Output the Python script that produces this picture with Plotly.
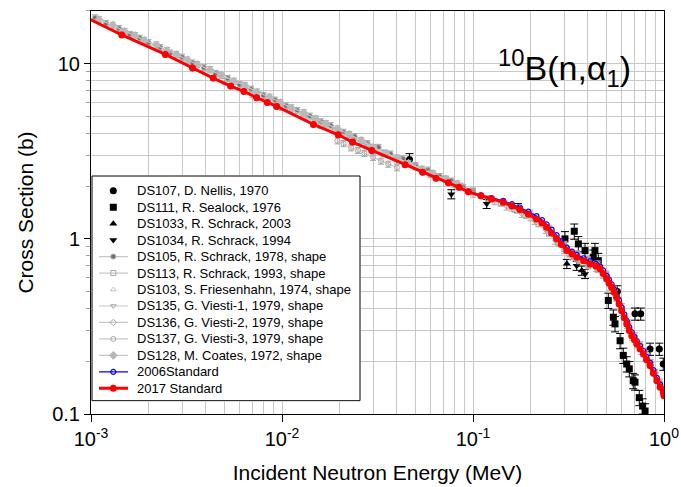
import plotly.graph_objects as go

# ---------------- data ----------------
# Black experimental sets
e107 = [0.0465, 0.57, 0.705, 0.755, 0.845, 0.945, 0.991]
s107 = [2.84, 0.50, 0.373, 0.373, 0.235, 0.235, 0.193]

e111 = [0.303, 0.339, 0.356, 0.386, 0.426, 0.435, 0.453, 0.511, 0.543, 0.554,
        0.589, 0.612, 0.638, 0.658, 0.690, 0.705, 0.742, 0.773, 0.796]
s111 = [1.00, 1.105, 0.936, 0.857, 0.785, 0.857, 0.751, 0.445, 0.357, 0.327,
        0.262, 0.216, 0.193, 0.181, 0.155, 0.152, 0.124, 0.111, 0.104]

e1033 = [0.31, 0.371]
s1033 = [0.72, 0.659]

e1034 = [0.077, 0.118, 0.172, 0.349, 0.386]
s1034 = [1.80, 1.585, 1.50, 0.703, 0.631]

# Grey (shape) experimental sets
e105 = [0.00105, 0.0012, 0.0014, 0.0016, 0.0018, 0.002, 0.0023, 0.0026, 0.003, 0.0034,
        0.0039, 0.0045, 0.0052, 0.006, 0.0069, 0.008, 0.0092, 0.0105, 0.012, 0.014,
        0.016, 0.018, 0.021, 0.024, 0.028, 0.032, 0.037, 0.043, 0.05, 0.058,
        0.067, 0.077, 0.089, 0.1]
s105 = [18.3, 17.0, 15.9, 14.7, 14.0, 13.2, 12.4, 11.5, 10.9, 10.1,
        9.5, 8.8, 8.25, 7.6, 7.15, 6.6, 6.2, 5.75, 5.4, 5.02,
        4.66, 4.43, 4.06, 3.84, 3.50, 3.33, 3.05, 2.86, 2.63, 2.47,
        2.27, 2.14, 1.97, 1.88]

e113 = [0.011, 0.013, 0.016, 0.019, 0.023, 0.028, 0.034, 0.041, 0.05, 0.06,
        0.072, 0.086, 0.1, 0.12, 0.14, 0.165, 0.19, 0.22, 0.25, 0.28,
        0.32, 0.36, 0.4, 0.45, 0.5]
s113 = [5.5, 5.0, 4.45, 4.15, 3.75, 3.40, 3.08, 2.84, 2.58, 2.37,
        2.18, 2.0, 1.86, 1.70, 1.60, 1.48, 1.36, 1.22, 1.08, 0.95,
        0.82, 0.76, 0.72, 0.68, 0.60]

e103 = [0.005, 0.007, 0.01, 0.015, 0.02, 0.03, 0.04, 0.06, 0.08, 0.1,
        0.13, 0.16, 0.2, 0.25, 0.3, 0.35, 0.4, 0.45]
s103 = [7.9, 6.7, 5.65, 4.55, 3.98, 3.22, 2.82, 2.33, 2.04, 1.80,
        1.63, 1.50, 1.32, 1.09, 0.88, 0.77, 0.71, 0.67]

e135 = [0.15, 0.18, 0.21, 0.24, 0.27, 0.3, 0.33, 0.36, 0.4, 0.44, 0.48, 0.52,
        0.56, 0.6, 0.64, 0.68, 0.72, 0.76, 0.8, 0.85, 0.9, 0.95, 1.0]
s135 = [1.52, 1.38, 1.26, 1.12, 0.97, 0.86, 0.79, 0.75, 0.70, 0.68, 0.62, 0.53,
        0.46, 0.38, 0.32, 0.275, 0.248, 0.228, 0.21, 0.19, 0.167, 0.148, 0.131]

e136 = [0.2, 0.25, 0.3, 0.35, 0.4, 0.45, 0.5, 0.55, 0.6, 0.65, 0.7, 0.75,
        0.8, 0.85, 0.9, 0.95, 1.0]
s136 = [1.40, 1.15, 0.93, 0.82, 0.76, 0.72, 0.62, 0.51, 0.41, 0.33, 0.28, 0.248,
        0.222, 0.197, 0.172, 0.152, 0.134]

e137 = [0.0195, 0.021, 0.023, 0.025, 0.027, 0.03, 0.033, 0.036, 0.04, None,
        0.3, 0.35, 0.4, 0.45, 0.5, 0.55, 0.6, 0.65, 0.7, 0.75, 0.8, 0.85, 0.9, 0.95]
s137 = [3.63, 3.50, 3.31, 3.20, 3.08, 2.92, 2.78, 2.67, 2.55, None,
        0.93, 0.82, 0.755, 0.71, 0.63, 0.515, 0.41, 0.325, 0.278, 0.248, 0.22, 0.197, 0.173, 0.152]

e128 = [0.0011, 0.0013, 0.0015, 0.0017, 0.0019, 0.0022, 0.0025, 0.0028, 0.0032, 0.0036,
        0.0042, 0.0048, 0.0056, 0.0064, 0.0074, 0.0086, 0.0098, 0.0112, 0.013, 0.015,
        0.017, 0.0195, 0.0225, 0.026, 0.03, 0.035, 0.04, 0.046, 0.054, 0.062, 0.072, 0.083]
s128 = [17.9, 16.6, 15.3, 14.5, 13.6, 12.8, 11.9, 11.3, 10.5, 9.9,
        9.25, 8.6, 7.95, 7.5, 6.9, 6.45, 6.0, 5.6, 5.25, 4.85,
        4.55, 4.25, 3.95, 3.65, 3.33, 3.08, 2.90, 2.70, 2.50, 2.35, 2.20, 2.06]

# Evaluated standards
e2017 = [0.00095, 0.00145, 0.00245, 0.0034, 0.00436, 0.00538, 0.00632, 0.00737, 0.00838, 0.00938,
         0.0146, 0.0197, 0.0234, 0.0295, 0.0441, 0.0545, 0.064, 0.0743, 0.0845, 0.0945,
         0.11, 0.125, 0.144, 0.16, 0.176, 0.195, 0.215, 0.23, 0.243, 0.258,
         0.274, 0.29, 0.31, 0.33, 0.349, 0.38, 0.41, 0.44, 0.463, 0.48,
         0.501, 0.515, 0.532, 0.548, 0.565, 0.582, 0.6, 0.62, 0.638, 0.658,
         0.678, 0.7, 0.72, 0.75, 0.78, 0.81, 0.845, 0.88, 0.917, 0.955, 0.991, 1.0]
s2017 = [18.3, 14.6, 11.3, 9.44, 8.28, 7.45, 6.95, 6.40, 6.01, 5.70,
         4.50, 3.93, 3.57, 3.20, 2.65, 2.40, 2.22, 2.09, 1.97, 1.86,
         1.76, 1.69, 1.62, 1.54, 1.47, 1.38, 1.30, 1.23, 1.165, 1.08,
         1.00, 0.93, 0.857, 0.82, 0.785, 0.75, 0.719, 0.70, 0.674, 0.635,
         0.591, 0.56, 0.529, 0.495, 0.463, 0.425, 0.389, 0.355, 0.327, 0.30,
         0.280, 0.265, 0.251, 0.235, 0.220, 0.204, 0.189, 0.171, 0.155, 0.142, 0.133, 0.127]

e2006 = e2017
s2006 = [18.3, 14.6, 11.3, 9.44, 8.28, 7.45, 6.95, 6.40, 6.01, 5.70,
         4.50, 3.93, 3.57, 3.20, 2.65, 2.40, 2.22, 2.09, 1.97, 1.87,
         1.77, 1.71, 1.65, 1.58, 1.51, 1.43, 1.35, 1.28, 1.21, 1.13,
         1.05, 0.97, 0.89, 0.845, 0.81, 0.775, 0.745, 0.72, 0.695, 0.66,
         0.615, 0.585, 0.55, 0.515, 0.48, 0.445, 0.405, 0.37, 0.34, 0.313,
         0.293, 0.275, 0.261, 0.244, 0.229, 0.212, 0.196, 0.178, 0.161, 0.147, 0.138, 0.132]

x_tickvals = [0.001, 0.01, 0.1, 1]
x_ticktext = ["10<sup>-3</sup>", "10<sup>-2</sup>", "10<sup>-1</sup>", "10<sup>0</sup>"]
y_tickvals = [0.1, 1, 10]
y_ticktext = ["0.1", "1", "10"]

# ---------------- figure ----------------
FONT = "Arial, Liberation Sans, sans-serif"
GREY_LINE = "#c8c8c8"
GREY_MK = "#a8a8a8"

fig = go.Figure()
legend_items = []   # (name, line style or None, marker style)

def black(name, x, y, symbol, err=9, errx=None):
    mk = dict(symbol=symbol, size=7, color="black")
    fig.add_trace(go.Scatter(
        x=x, y=y, name=name, mode="markers", marker=mk,
        error_y=dict(type="percent", value=err, color="black", thickness=1, width=4),
        error_x=(dict(type="percent", value=errx, color="black", thickness=1, width=0)
                 if errx else None),
    ))
    legend_items.append((name, None, mk))

black("DS107, D. Nellis, 1970", e107, s107, "circle", 8, 4)
black("DS111, R. Sealock, 1976", e111, s111, "square", 10)
black("DS1033, R. Schrack, 2003", e1033, s1033, "triangle-up", 6)
black("DS1034, R. Schrack, 1994", e1034, s1034, "triangle-down", 6)

def grey(name, x, y, symbol, fill, mode="lines+markers", size=5, mkline=GREY_MK):
    ln = dict(color=GREY_LINE, width=1.2)
    mk = dict(symbol=symbol, size=size, color=fill, line=dict(color=mkline, width=1))
    fig.add_trace(go.Scatter(
        x=x, y=y, name=name, mode=mode, connectgaps=False, line=ln, marker=mk,
        error_y=dict(type="percent", value=4, color=GREY_MK, thickness=1, width=3),
    ))
    legend_items.append((name, ln if "lines" in mode else None, mk))

grey("DS105, R. Schrack, 1978, shape", e105, s105, "circle", "#707070", size=5)
grey("DS113, R. Schrack, 1993, shape", e113, s113, "square-open", GREY_MK)
grey("DS103, S. Friesenhahn, 1974, shape", e103, s103, "triangle-up-open", "#c0c0c0",
     mode="markers", mkline="#c0c0c0")
grey("DS135, G. Viesti-1, 1979, shape", e135, s135, "triangle-down-open", GREY_MK)
grey("DS136, G. Viesti-2, 1979, shape", e136, s136, "diamond-open", GREY_MK)
grey("DS137, G. Viesti-3, 1979, shape", e137, s137, "circle-open", GREY_MK)
grey("DS128, M. Coates, 1972, shape", e128, s128, "diamond", "#b8b8b8", mkline="#b8b8b8", size=6)

ln06 = dict(color="#0000ff", width=1.2)
mk06 = dict(symbol="circle-open", size=5, color="#0000ff", line=dict(width=1.2))
fig.add_trace(go.Scatter(x=e2006, y=s2006, name="2006Standard", mode="lines+markers",
                         line=ln06, marker=mk06))
legend_items.append(("2006Standard", ln06, mk06))

ln17 = dict(color="#ff0000", width=3)
mk17 = dict(symbol="circle", size=7, color="#ff0000")
fig.add_trace(go.Scatter(x=e2017, y=s2017, name="2017 Standard", mode="lines+markers",
                         line=ln17, marker=mk17))
legend_items.append(("2017 Standard", ln17, mk17))

# ---------------- legend box (drawn in an inset subplot, pixel units) ----------------
BOX_W, BOX_H = 268, 224.7
fig.add_trace(go.Scatter(
    x=[0, BOX_W, BOX_W, 0, 0], y=[0, 0, BOX_H, BOX_H, 0],
    xaxis="x2", yaxis="y2", mode="lines", fill="toself", fillcolor="white",
    line=dict(color="black", width=1), hoverinfo="skip", showlegend=False,
))
ROW0, ROW_STEP = 210.0, 16.47
for i, (name, ln, mk) in enumerate(legend_items):
    yc = ROW0 - i * ROW_STEP
    if ln is not None:
        fig.add_trace(go.Scatter(x=[7, 36], y=[yc, yc], xaxis="x2", yaxis="y2",
                                 mode="lines", line=ln, hoverinfo="skip", showlegend=False))
    fig.add_trace(go.Scatter(x=[21.3], y=[yc], xaxis="x2", yaxis="y2",
                             mode="markers", marker=mk, hoverinfo="skip", showlegend=False))
    fig.add_annotation(x=43, y=yc, xref="x2", yref="y2", text=name, showarrow=False,
                       xanchor="left", yanchor="middle",
                       font=dict(family=FONT, size=13, color="black"))

fig.add_annotation(
    x=0.826, y=0.858, xref="paper", yref="paper",
    text="<sup>10</sup>B(n,α<sub>1</sub>)", showarrow=False,
    font=dict(family=FONT, size=34, color="black"),
    xanchor="center", yanchor="middle",
)

axis_common = dict(
    type="log", showline=True, linecolor="black", linewidth=1, mirror=True,
    showgrid=True, gridcolor=GREY_LINE, gridwidth=1,
    ticks="outside", tickcolor="black",
    zeroline=False, automargin=False,
    tickfont=dict(family=FONT, size=20, color="black"),
)

fig.update_layout(
    xaxis=dict(
        **axis_common, range=[-3, 0],
        tickvals=x_tickvals, ticktext=x_ticktext, ticklen=7,
        minor=dict(dtick="D1", showgrid=True, gridcolor=GREY_LINE, ticks=""),
        title=dict(text="Incident Neutron Energy (MeV)",
                   font=dict(family=FONT, size=21, color="black"), standoff=16),
    ),
    yaxis=dict(
        **axis_common, range=[-1, 1.301],
        tickvals=y_tickvals, ticktext=y_ticktext, ticklen=6,
        minor=dict(dtick="D1", showgrid=True, gridcolor=GREY_LINE, ticks="outside",
                   ticklen=4, tickcolor="#a0a0a0"),
        title=dict(text="Cross Section (b)",
                   font=dict(family=FONT, size=21, color="black"), standoff=12),
    ),
    xaxis2=dict(domain=[0.0, 270 / 573], range=[-1, 269], anchor="y2",
                visible=False, fixedrange=True),
    yaxis2=dict(domain=[(414 - 401.7) / 403, (414 - 175) / 403], range=[-1, 225.7],
                anchor="x2", visible=False, fixedrange=True),
    width=681, height=487,
    margin=dict(l=91, r=17, t=11, b=73, autoexpand=False),
    paper_bgcolor="white", plot_bgcolor="white",
    font=dict(family=FONT, color="black"),
    showlegend=False,
)

fig.write_html("out.html", config={"displayModeBar": False},
               post_script="document.body.style.margin='0';document.body.style.padding='0';")
